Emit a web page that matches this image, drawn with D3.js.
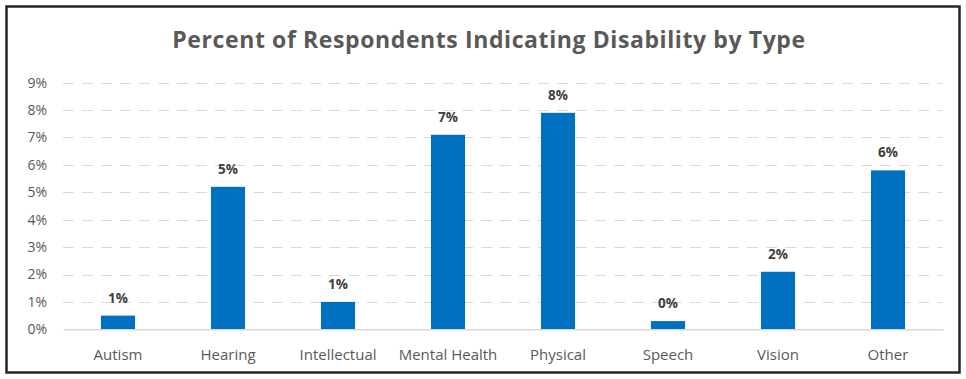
<!DOCTYPE html>
<html>
<head>
<meta charset="utf-8">
<script src="https://cdn.jsdelivr.net/npm/d3@7/dist/d3.min.js"></script>
<style>
  html, body { margin: 0; padding: 0; background: #fff; }
  svg { display: block; }
</style>
</head>
<body>
<svg id="chart" width="966" height="379"></svg>
<script>
// Disability types and the share of respondents indicating each one
const categories = ["Autism", "Hearing", "Intellectual", "Mental Health", "Physical", "Speech", "Vision", "Other"];
const percents = [0.005, 0.052, 0.010, 0.071, 0.079, 0.003, 0.021, 0.058];
const yTicks = [0, 0.01, 0.02, 0.03, 0.04, 0.05, 0.06, 0.07, 0.08, 0.09];
const title = "Percent of Respondents Indicating Disability by Type";

const svg = d3.select("#chart");
const W = 966, H = 379;
const font = "Open Sans, 'Noto Sans', sans-serif";

// outer frame
svg.append("rect")
  .attr("x", 6.5).attr("y", 6.5)
  .attr("width", W - 13).attr("height", H - 13)
  .attr("fill", "#fff")
  .attr("stroke", "#262626")
  .attr("stroke-width", 2.5);

const plot = { left: 63, right: 943, top: 82.7, bottom: 329.3 };

const x = d3.scaleBand()
  .domain(categories)
  .range([plot.left, plot.right])
  .paddingInner(0.69)
  .paddingOuter(0.345);

const y = d3.scaleLinear()
  .domain([0, 0.09])
  .range([plot.bottom, plot.top]);

// title
svg.append("text")
  .attr("x", 489).attr("y", 48)
  .attr("text-anchor", "middle")
  .attr("font-family", font)
  .attr("font-weight", 700)
  .attr("font-size", 23)
  .attr("letter-spacing", 0.6)
  .attr("fill", "#595959")
  .text(title);

// dashed horizontal gridlines
svg.append("g")
  .selectAll("line")
  .data(yTicks.filter(d => d > 0))
  .join("line")
  .attr("x1", plot.left).attr("x2", plot.right)
  .attr("y1", d => Math.round(y(d)) + 0.5)
  .attr("y2", d => Math.round(y(d)) + 0.5)
  .attr("stroke", "#d9d9d9")
  .attr("stroke-width", 1.2)
  .attr("stroke-dasharray", "11,8");

// y axis labels
const yAxis = d3.axisLeft(y)
  .tickValues(yTicks)
  .tickFormat(d3.format(".0%"))
  .tickSize(0)
  .tickPadding(16);
const gy = svg.append("g")
  .attr("transform", `translate(${plot.left},0)`)
  .call(yAxis);
gy.select(".domain").remove();
gy.selectAll("text")
  .attr("font-family", font)
  .attr("font-size", 14)
  .attr("fill", "#595959");

// bars
svg.append("g")
  .selectAll("rect")
  .data(categories)
  .join("rect")
  .attr("x", d => x(d))
  .attr("width", x.bandwidth())
  .attr("y", (d, i) => y(percents[i]))
  .attr("height", (d, i) => y(0) - y(percents[i]))
  .attr("fill", "#0070c0");

// baseline / category axis
const xAxis = d3.axisBottom(x).tickSize(0).tickPadding(20);
const gx = svg.append("g")
  .attr("transform", `translate(0,${plot.bottom})`)
  .call(xAxis);
gx.select(".domain")
  .attr("stroke", "#d9d9d9")
  .attr("stroke-width", 1.5);
gx.selectAll("text")
  .attr("font-family", font)
  .attr("font-size", 15)
  .attr("fill", "#595959");

// value labels
svg.append("g")
  .selectAll("text")
  .data(categories)
  .join("text")
  .attr("x", d => x(d) + x.bandwidth() / 2)
  .attr("y", (d, i) => y(percents[i]) - 13)
  .attr("text-anchor", "middle")
  .attr("font-family", font)
  .attr("font-weight", 700)
  .attr("font-size", 13.5)
  .attr("fill", "#404040")
  .text((d, i) => d3.format(".0%")(percents[i]));
</script>
</body>
</html>
